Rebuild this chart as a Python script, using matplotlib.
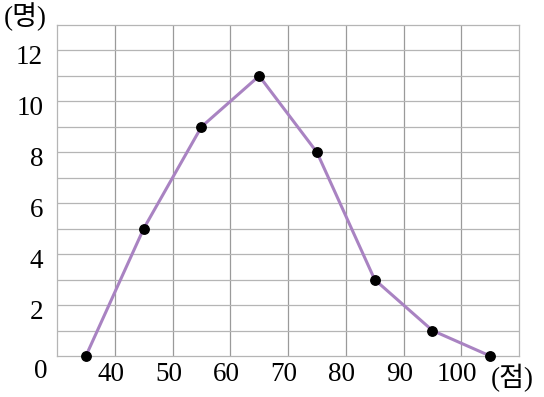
import matplotlib
matplotlib.use("Agg")
import matplotlib.pyplot as plt
from matplotlib.transforms import ScaledTranslation

plt.rcParams['font.family'] = ['Liberation Serif', 'Noto Sans CJK KR']

# 계급값, 도수
scores = [35, 45, 55, 65, 75, 85, 95, 105]
counts = [0, 5, 9, 11, 8, 3, 1, 0]
x_ticks = [40, 50, 60, 70, 80, 90, 100]
y_ticks = [2, 4, 6, 8, 10, 12]

fs = 19.5

fig = plt.figure(figsize=(5.44, 3.97), dpi=100)
ax = fig.add_axes([0.1048, 0.1033, 0.8494, 0.8337])
ax.set_xlim(30, 110)
ax.set_ylim(0, 13)

for v in range(40, 110, 10):
    ax.axvline(v, color='#9a9a9a', lw=0.9, zorder=1)
for v in range(1, 13):
    ax.axhline(v, color='#b5b5b5', lw=0.9, zorder=1)

ax.plot(scores, counts, color='#a983c2', lw=2.2, zorder=2, clip_on=False)
ax.plot(scores, counts, 'o', color='black', ms=6.8, zorder=3, clip_on=False)

for s in ax.spines.values():
    s.set_color('#b5b5b5')
    s.set_linewidth(0.9)

ax.set_xticks(x_ticks)
ax.set_xticklabels([str(t) for t in x_ticks])
ax.set_yticks(y_ticks)
ax.set_yticklabels([str(t) for t in y_ticks])
ax.tick_params(length=0, labelsize=fs)
ax.tick_params(axis='y', pad=10)
ax.tick_params(axis='x', pad=4)

# 라벨 위치 미세 조정
dy = ScaledTranslation(0, -4 / 100, fig.dpi_scale_trans)
for lab in ax.get_yticklabels():
    lab.set_transform(lab.get_transform() + dy)
dx = ScaledTranslation(-4 / 100, 0, fig.dpi_scale_trans)
for lab in ax.get_xticklabels():
    lab.set_transform(lab.get_transform() + dx)

fig.text(41 / 544, 1 - 371 / 397, '0', fontsize=fs, ha='center', va='center')
fig.text(25 / 544, 1 - 17 / 397, '(명)', fontsize=fs, ha='center', va='center')
fig.text(512 / 544, 1 - 378 / 397, '(점)', fontsize=fs, ha='center', va='center')

fig.savefig('out.png', dpi=100)
